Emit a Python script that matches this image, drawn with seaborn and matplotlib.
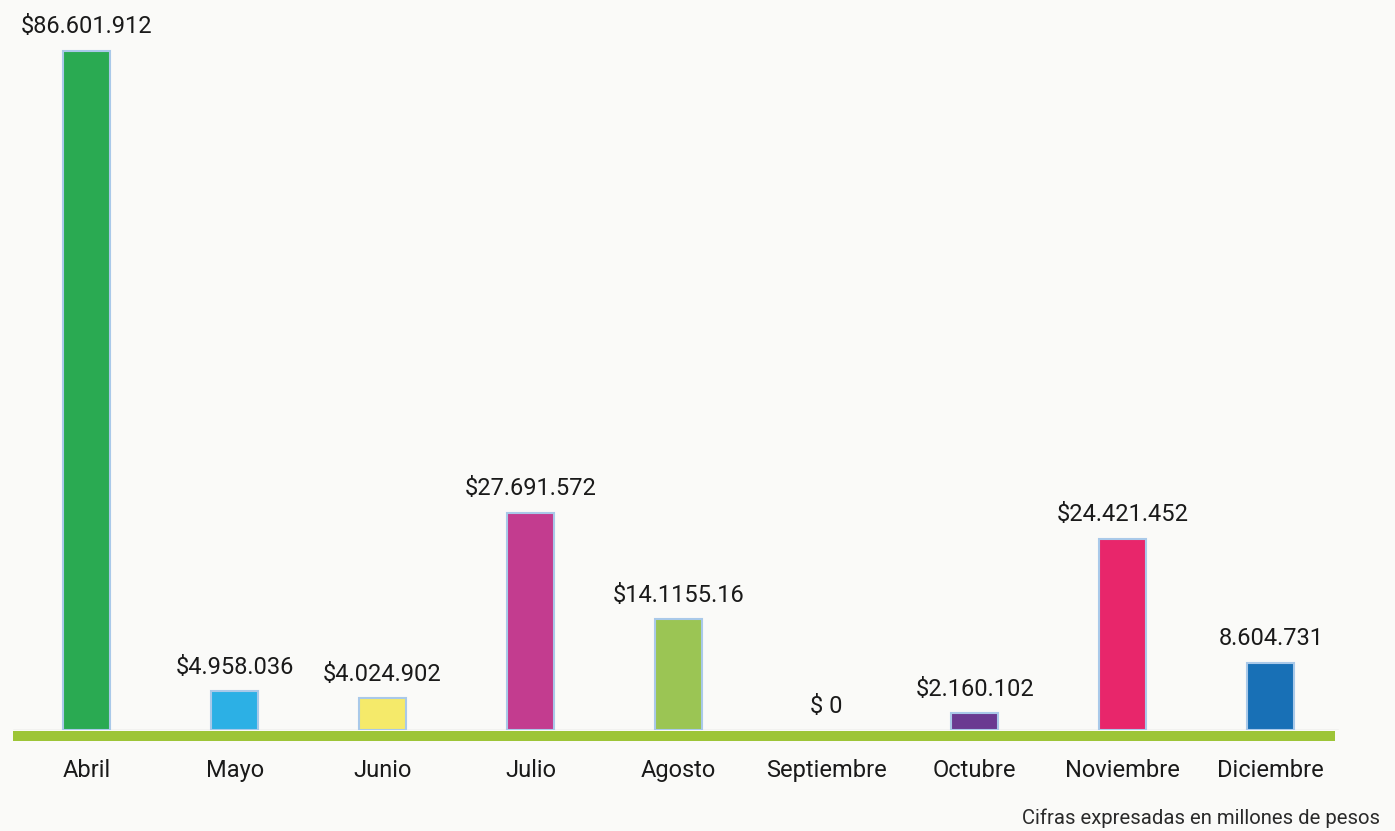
import pandas as pd
import seaborn as sns
import matplotlib.pyplot as plt
from matplotlib.patches import Rectangle

# ============================================================================
# DATA
# ============================================================================
meses = ['Abril', 'Mayo', 'Junio', 'Julio', 'Agosto', 'Septiembre',
         'Octubre', 'Noviembre', 'Diciembre']
valores = [86601912, 4958036, 4024902, 27691572, 14115516, 0,
           2160102, 24421452, 8604731]
etiquetas = ['$86.601.912', '$4.958.036', '$4.024.902', '$27.691.572',
             '$14.1155.16', '$ 0', '$2.160.102', '$24.421.452', '8.604.731']
colores = ['#2aaa52', '#2cb0e5', '#f5ea6a', '#c33c8f', '#9bc554',
           '#8c8c8c', '#6a3a91', '#e8266b', '#1870b6']

df = pd.DataFrame({'Mes': meses, 'Valor': valores})

# ============================================================================
# PLOT
# ============================================================================
sns.set_theme(style="white")
plt.rcParams['font.family'] = ['Roboto', 'DejaVu Sans']

bg = '#fafaf8'
fig = plt.figure(figsize=(13.95, 8.31), dpi=100, facecolor=bg)
ax = fig.add_axes([0.009, 0.1215, 0.955, 0.8785])
ax.set_facecolor(bg)

sns.barplot(data=df, x='Mes', y='Valor', hue='Mes', palette=colores,
            width=0.32, edgecolor='#a9c9e9', linewidth=1.5, saturation=1,
            legend=False, ax=ax)

# no visible mark for empty months
for bar in ax.patches:
    if bar.get_height() == 0:
        bar.set_linewidth(0)
        bar.set_facecolor('none')

ax.set_xlim(-0.5, len(meses) - 0.5)
ax.set_ylim(0, 93.1e6)

for container, lab in zip(ax.containers, etiquetas):
    ax.bar_label(container, labels=[lab], padding=9, fontsize=17,
                 color='#1a1a1a')

# axis styling
for side in ['top', 'right', 'left', 'bottom']:
    ax.spines[side].set_visible(False)
ax.axhline(0, color='#d2d2d2', lw=1, zorder=0, xmax=0.995)

# green baseline band
band = Rectangle((-0.497, -0.0151), 8.93, 0.0137, transform=ax.get_xaxis_transform(),
                 facecolor='#9dc537', edgecolor='none', clip_on=False, zorder=3)
ax.add_patch(band)

ax.set_yticks([])
ax.set_xlabel('')
ax.set_ylabel('')
ax.tick_params(axis='x', length=0, pad=21, labelsize=17, labelcolor='#1a1a1a')

fig.text(0.989, 0.004, 'Cifras expresadas en millones de pesos',
         ha='right', va='bottom', fontsize=14.6, color='#2a2a2a')

plt.savefig('out.png', dpi=100, facecolor=bg)
